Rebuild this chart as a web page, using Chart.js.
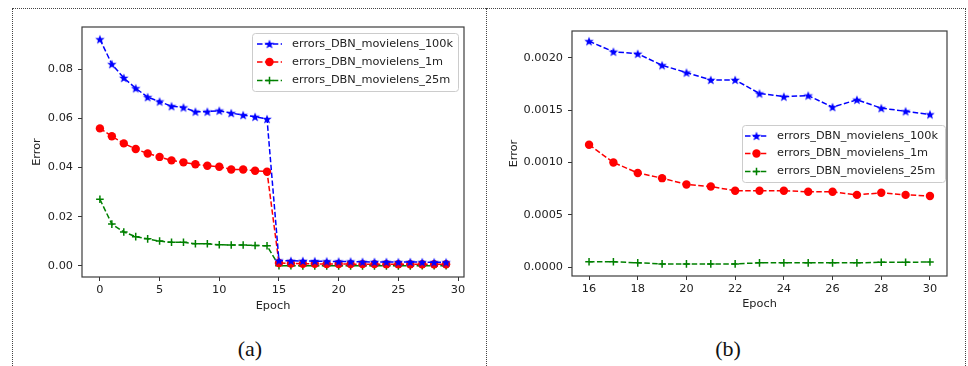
<!DOCTYPE html>
<html>
<head>
<meta charset="utf-8">
<script src="https://cdn.jsdelivr.net/npm/chart.js@4.4.0/dist/chart.umd.min.js"></script>
<style>
  body { margin: 0; width: 968px; height: 366px; background: #fff; overflow: hidden; position: relative; }
  .frame { position: absolute; left: 12px; top: 8px; width: 954px; height: 400px; border: 1px dotted #444; box-sizing: border-box; }
  .divider { position: absolute; left: 486px; top: 8px; height: 400px; border-left: 1px dotted #444; }
  .panel { position: absolute; top: 0; }
  .caption { position: absolute; top: 336px; width: 60px; text-align: center; font-family: "Liberation Serif"; font-size: 22px; color: #111; }
</style>
</head>
<body>
<div class="frame"></div>
<div class="divider"></div>
<div class="panel" style="left:0px"><canvas id="chartA" width="486" height="330"></canvas></div>
<div class="panel" style="left:487px"><canvas id="chartB" width="478" height="330"></canvas></div>
<div class="caption" style="left:220px">(a)</div>
<div class="caption" style="left:698px">(b)</div>
<script>
// Series labels
const seriesNames = ["errors_DBN_movielens_100k", "errors_DBN_movielens_1m", "errors_DBN_movielens_25m"];

// Panel (a): epochs 0 - 29
const epochsA = [0, 1, 2, 3, 4, 5, 6, 7, 8, 9, 10, 11, 12, 13, 14, 15, 16, 17, 18, 19, 20, 21, 22, 23, 24, 25, 26, 27, 28, 29];
const errors100kA = [0.0921, 0.0820, 0.0764, 0.0722, 0.0686, 0.0668, 0.0649, 0.0644, 0.0627, 0.0627, 0.0631, 0.0621, 0.0613, 0.0606, 0.0597,
  0.00216, 0.00206, 0.00204, 0.00193, 0.00186, 0.00179, 0.00179, 0.00166, 0.00163, 0.00164, 0.00153, 0.00160, 0.00152, 0.00149, 0.00146];
const errors1mA = [0.0559, 0.0527, 0.0498, 0.0475, 0.0457, 0.0443, 0.0429, 0.0421, 0.0413, 0.0407, 0.0403, 0.0392, 0.0392, 0.0387, 0.0383,
  0.00117, 0.00100, 0.00090, 0.00085, 0.00079, 0.00077, 0.00073, 0.00073, 0.00073, 0.00072, 0.00072, 0.00069, 0.00071, 0.00069, 0.00068];
const errors25mA = [0.0271, 0.0170, 0.0138, 0.0119, 0.0110, 0.0101, 0.0096, 0.0096, 0.0090, 0.0090, 0.0086, 0.0085, 0.0085, 0.0083, 0.0082,
  0.00005, 0.00005, 0.00004, 0.00003, 0.00003, 0.00003, 0.00003, 0.00004, 0.00004, 0.00004, 0.00004, 0.00004, 0.000045, 0.000045, 0.000048];

// Panel (b): epochs 16 - 30
const epochsB = [16, 17, 18, 19, 20, 21, 22, 23, 24, 25, 26, 27, 28, 29, 30];
const errors100kB = [0.00216, 0.00206, 0.00204, 0.00193, 0.00186, 0.00179, 0.00179, 0.00166, 0.00163, 0.00164, 0.00153, 0.00160, 0.00152, 0.00149, 0.00146];
const errors1mB = [0.00117, 0.00100, 0.00090, 0.00085, 0.00079, 0.00077, 0.00073, 0.00073, 0.00073, 0.00072, 0.00072, 0.00069, 0.00071, 0.00069, 0.00068];
const errors25mB = [0.00005, 0.00005, 0.00004, 0.00003, 0.00003, 0.00003, 0.00003, 0.00004, 0.00004, 0.00004, 0.00004, 0.00004, 0.000045, 0.000045, 0.000048];

const FONT = '"DejaVu Sans", sans-serif';
const FONT_SIZE = 11.3;
const TEXT = "#222";

// filled 5-point star like matplotlib's "*" marker
function makeStar(color, r) {
  const c = document.createElement("canvas");
  const s = Math.ceil(r * 2) + 2;
  c.width = s; c.height = s;
  const g = c.getContext("2d");
  g.fillStyle = color;
  g.beginPath();
  for (let k = 0; k < 10; k++) {
    const rad = k % 2 ? r * 0.42 : r;
    const a = -Math.PI / 2 + k * Math.PI / 5;
    g.lineTo(s / 2 + rad * Math.cos(a), s / 2 + rad * Math.sin(a) + 0.4);
  }
  g.closePath();
  g.fill();
  return c;
}
const blueStar = makeStar("#0000ff", 5);

function series(xs, ys, i) {
  const base = {
    label: seriesNames[i],
    data: xs.map((x, k) => ({ x: x, y: ys[k] })),
    borderWidth: 1.5,
    borderDash: [5.5, 2.4],
    fill: false,
    tension: 0
  };
  if (i === 0) {
    return Object.assign(base, { borderColor: "#0000ff", pointStyle: blueStar, pointRadius: 4,
      pointBackgroundColor: "#0000ff", pointBorderColor: "#0000ff", pointBorderWidth: 0 });
  }
  if (i === 1) {
    return Object.assign(base, { borderColor: "#ff0000", pointStyle: "circle", pointRadius: 4.2,
      pointBackgroundColor: "#ff0000", pointBorderColor: "#ff0000", pointBorderWidth: 0 });
  }
  return Object.assign(base, { borderColor: "#008000", pointStyle: "cross", pointRadius: 3.8,
    pointBackgroundColor: "#008000", pointBorderColor: "#008000", pointBorderWidth: 1.5 });
}

// axes frame drawn on all four sides, like matplotlib spines
const axesBox = {
  id: "axesBox",
  afterDatasetsDraw(chart) {
    const a = chart.chartArea, ctx = chart.ctx;
    ctx.save();
    ctx.strokeStyle = "#3c3c3c";
    ctx.lineWidth = 1.2;
    ctx.strokeRect(a.left, a.top, a.right - a.left, a.bottom - a.top);
    ctx.restore();
  }
};

// legend box placed inside the plot
const boxLegend = {
  id: "boxLegend",
  afterDraw(chart, args, o) {
    const ctx = chart.ctx;
    ctx.save();
    ctx.fillStyle = "rgba(255,255,255,0.85)";
    ctx.strokeStyle = "#cccccc";
    ctx.lineWidth = 1;
    ctx.beginPath();
    ctx.roundRect(o.x + 0.5, o.y + 0.5, o.w, o.h, 3);
    ctx.fill();
    ctx.stroke();
    chart.data.datasets.forEach(function (ds, i) {
      const y = o.rows[i];
      ctx.strokeStyle = ds.borderColor;
      ctx.lineWidth = ds.borderWidth;
      ctx.setLineDash(ds.borderDash);
      ctx.beginPath();
      ctx.moveTo(o.lineX0, y);
      ctx.lineTo(o.lineX1, y);
      ctx.stroke();
      ctx.setLineDash([]);
      ctx.fillStyle = ds.pointBackgroundColor;
      ctx.strokeStyle = ds.pointBorderColor;
      ctx.lineWidth = ds.pointBorderWidth;
      Chart.helpers.drawPoint(ctx, { pointStyle: ds.pointStyle, radius: ds.pointRadius,
        borderWidth: ds.pointBorderWidth, rotation: 0 }, (o.lineX0 + o.lineX1) / 2, y);
      ctx.fillStyle = TEXT;
      ctx.font = FONT_SIZE + "px " + FONT;
      ctx.textBaseline = "middle";
      ctx.fillText(ds.label, o.textX, y);
    });
    ctx.restore();
  }
};

function makeChart(id, xs, ys, ax, legendPos, padding) {
  return new Chart(document.getElementById(id), {
    type: "line",
    data: { datasets: ys.map((v, i) => series(xs, v, i)) },
    plugins: [axesBox, boxLegend],
    options: {
      responsive: false,
      animation: false,
      devicePixelRatio: 1,
      layout: { padding: padding },
      plugins: { legend: { display: false }, tooltip: { enabled: false }, boxLegend: legendPos },
      scales: {
        x: {
          type: "linear", min: ax.xMin, max: ax.xMax,
          border: { display: false },
          grid: { drawOnChartArea: false, drawTicks: true, tickLength: 4, color: "#333", tickWidth: 1 },
          ticks: { stepSize: ax.xStep, includeBounds: false, padding: 2, color: TEXT, font: { family: FONT, size: FONT_SIZE } },
          title: { display: true, text: "Epoch", color: TEXT, font: { family: FONT, size: FONT_SIZE }, padding: { top: 0, bottom: ax.xTitlePad } },
          afterFit(s) { s.height = ax.xHeight; }
        },
        y: {
          type: "linear", min: ax.yMin, max: ax.yMax,
          border: { display: false },
          grid: { drawOnChartArea: false, drawTicks: true, tickLength: 4, color: "#333", tickWidth: 1 },
          ticks: { stepSize: ax.yStep, includeBounds: false, padding: 5, color: TEXT, font: { family: FONT, size: FONT_SIZE },
            callback: v => v.toFixed(ax.yDigits) },
          title: { display: true, text: "Error", color: TEXT, font: { family: FONT, size: FONT_SIZE }, padding: { top: ax.yTitlePad, bottom: 0 } },
          afterFit(s) { s.width = ax.yWidth; }
        }
      }
    }
  });
}

makeChart("chartA", epochsA, [errors100kA, errors1mA, errors25mA],
  { xMin: -1.5, xMax: 30.5, xStep: 5, yMin: -0.0045, yMax: 0.0971, yStep: 0.02, yDigits: 2,
    yWidth: 82, yTitlePad: 30, xHeight: 53, xTitlePad: 17 },
  { x: 252, y: 33, w: 206, h: 58, lineX0: 257, lineX1: 282, textX: 292, rows: [44, 62, 80.5] },
  { top: 27, right: 22, bottom: 0, left: 0 });

makeChart("chartB", epochsB, [errors100kB, errors1mB, errors25mB],
  { xMin: 15.3, xMax: 30.7, xStep: 2, yMin: -0.000086, yMax: 0.002258, yStep: 0.0005, yDigits: 4,
    yWidth: 85, yTitlePad: 20, xHeight: 54, xTitlePad: 19 },
  { x: 255, y: 125, w: 203, h: 57, lineX0: 258, lineX1: 281, textX: 290, rows: [136, 153.5, 171.5] },
  { top: 31, right: 18, bottom: 0, left: 0 });
</script>
</body>
</html>
